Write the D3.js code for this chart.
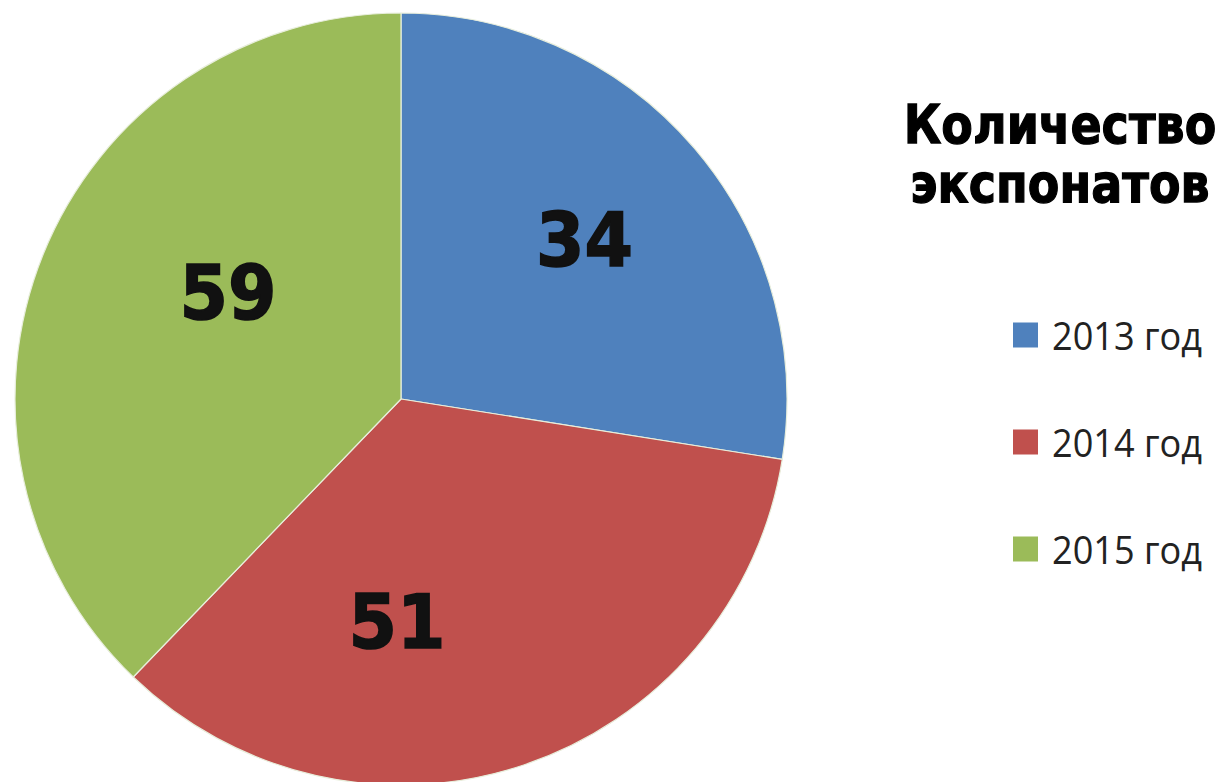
<!DOCTYPE html>
<html>
<head>
<meta charset="utf-8">
<script src="https://cdn.jsdelivr.net/npm/d3@7"></script>
<style>
  html, body { margin: 0; padding: 0; background: #fff; }
  svg { display: block; }
</style>
</head>
<body>
<svg id="chart" width="1227" height="782"></svg>
<script>
// ---- data ----
const categories = ["2013 год", "2014 год", "2015 год"];
const labelValues = [34, 51, 59];            // numbers printed on the slices
const sliceShares = [27.5, 34.7, 37.8];      // slice sizes as drawn in the picture (%)
const titleLines = ["Количество", "экспонатов"];
const colors = ["#4F81BD", "#C0504D", "#9BBB59"];

// ---- layout ----
const W = 1227, H = 782;
const cx = 401, cy = 399, R = 386;
const labelPolar = [ {a: 49, r: 243}, {a: 181, r: 223}, {a: 301.5, r: 203} ];

const svg = d3.select("#chart");
const g = svg.append("g").attr("transform", `translate(${cx},${cy})`);

const rows = categories.map((c, i) => ({ cat: c, share: sliceShares[i], label: labelValues[i], color: colors[i], i }));
const pie = d3.pie().sort(null).value(d => d.share);
const arc = d3.arc().innerRadius(0).outerRadius(R);
const arcs = pie(rows);

g.selectAll("path.slice").data(arcs).join("path")
  .attr("class", "slice")
  .attr("d", arc)
  .attr("fill", d => d.data.color)
  .attr("stroke", "#e8eedc")
  .attr("stroke-width", 1.2)
  .attr("stroke-linejoin", "round");

g.selectAll("text.val").data(arcs).join("text")
  .attr("class", "val")
  .attr("transform", d => {
    const p = labelPolar[d.data.i];
    const [x, y] = d3.pointRadial(p.a * Math.PI / 180, p.r);
    return `translate(${x},${y})`;
  })
  .attr("text-anchor", "middle")
  .attr("dominant-baseline", "central")
  .attr("font-family", "DejaVu Sans")
  .attr("font-weight", "bold")
  .attr("font-size", 75)
  .attr("textLength", 97)
  .attr("lengthAdjust", "spacingAndGlyphs")
  .attr("fill", "#111")
  .attr("stroke", "#111")
  .attr("stroke-width", 1.6)
  .text(d => d.data.label);

// title (slightly stretched vertically, like the reference's heavy face)
const title = svg.append("text")
  .attr("transform", "translate(1060,143) scale(1,1.15)")
  .attr("text-anchor", "middle")
  .attr("font-family", "DejaVu Sans")
  .attr("font-weight", "bold")
  .attr("font-size", 46)
  .attr("fill", "#000")
  .attr("stroke", "#000")
  .attr("stroke-width", 1.1);
title.selectAll("tspan").data(titleLines).join("tspan")
  .attr("x", 0)
  .attr("dy", (d, i) => i === 0 ? 0 : 51.3)
  .text(d => d);

// legend
const legY = d3.scalePoint().domain(categories).range([335, 549]);
const leg = svg.append("g").selectAll("g").data(rows).join("g")
  .attr("transform", d => `translate(1013,${legY(d.cat)})`);
leg.append("rect")
  .attr("x", 0).attr("y", -12.5).attr("width", 25).attr("height", 25)
  .attr("fill", d => d.color);
leg.append("text")
  .attr("x", 39).attr("y", 0)
  .attr("dominant-baseline", "central")
  .attr("font-family", "Open Sans")
  .attr("font-size", 38)
  .attr("textLength", 150)
  .attr("lengthAdjust", "spacingAndGlyphs")
  .attr("fill", "#222")
  .text(d => d.cat);
</script>
</body>
</html>
